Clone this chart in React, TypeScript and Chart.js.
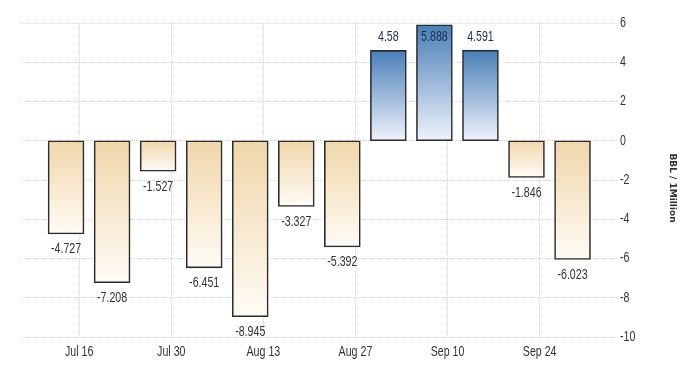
import React, { useEffect, useRef } from 'react';
import { Chart, registerables } from 'chart.js';

Chart.register(...registerables);

// ---- data ----
const weekDates = [
  '2018-07-14', '2018-07-21', '2018-07-28', '2018-08-04', '2018-08-11', '2018-08-18',
  '2018-08-25', '2018-09-01', '2018-09-08', '2018-09-15', '2018-09-22', '2018-09-29',
];
const inventoryChange = [
  -4.727, -7.208, -1.527, -6.451, -8.945, -3.327, -5.392, 4.58, 5.888, 4.591, -1.846, -6.023,
];
const tickDates = ['2018-07-16', '2018-07-30', '2018-08-13', '2018-08-27', '2018-09-10', '2018-09-24'];
const tickLabels = ['Jul 16', 'Jul 30', 'Aug 13', 'Aug 27', 'Sep 10', 'Sep 24'];
const yMin = -10;
const yMax = 6;
const yStep = 2;
const unitLabel = 'BBL / 1Million';

const DAY = 86400000;
const toDay = (s: string) => Date.parse(s + 'T00:00:00Z') / DAY;

const FONT = "'Liberation Sans', Arial, sans-serif";
const NARROW = 0.76;

function narrowText(ctx: any, text: string, x: number, y: number, align: CanvasTextAlign) {
  ctx.save();
  ctx.translate(x, y);
  ctx.scale(NARROW, 1);
  ctx.textAlign = align;
  ctx.fillText(text, 0, 0);
  ctx.restore();
}

export default function App() {
  const ref = useRef<HTMLCanvasElement | null>(null);

  useEffect(() => {
    const canvas = ref.current;
    if (!canvas) return;
    const days = weekDates.map(toDay);
    const tickDays = tickDates.map(toDay);
    const points = days.map((d, i) => ({ x: d, y: inventoryChange[i] }));

    const textPlugin = {
      id: 'narrowTexts',
      afterDraw(chart: any) {
        const { ctx, chartArea } = chart;
        const xs = chart.scales.x;
        const ys = chart.scales.y;
        ctx.save();
        ctx.font = `14px ${FONT}`;
        ctx.textBaseline = 'middle';
        ctx.fillStyle = '#333333';
        // x tick labels
        xs.ticks.forEach((t: any, i: number) => {
          narrowText(ctx, tickLabels[i], xs.getPixelForValue(t.value), chartArea.bottom + 15, 'center');
        });
        // y tick labels
        ys.ticks.forEach((t: any) => {
          narrowText(ctx, String(t.value), chartArea.right + 8, ys.getPixelForValue(t.value), 'left');
        });
        // value labels
        const meta = chart.getDatasetMeta(0);
        meta.data.forEach((el: any, i: number) => {
          const v = inventoryChange[i];
          let y: number;
          if (v >= 0) {
            const inside = el.y - 14 < chartArea.top + 14;
            y = Math.max(el.y - 14, chartArea.top + 14);
            ctx.fillStyle = inside ? '#1c2f4a' : '#333333';
          } else {
            y = el.y + 16;
            ctx.fillStyle = '#333333';
          }
          narrowText(ctx, String(v), el.x, y, 'center');
        });
        // axis unit title
        ctx.translate(672, 188);
        ctx.rotate(Math.PI / 2);
        ctx.font = `bold 9px 'DejaVu Sans', sans-serif`;
        ctx.textAlign = 'center';
        ctx.fillStyle = '#333333';
        ctx.fillText(unitLabel, 0, 0);
        ctx.restore();
      },
    };

    const chart = new Chart(canvas, {
      type: 'bar',
      data: {
        datasets: [
          {
            data: points as any,
            barThickness: 35,
            borderWidth: 1.6,
            inflateAmount: 0.8,
            borderColor: '#2b2b2b',
            borderSkipped: false,
            backgroundColor: (c: any) => {
              const chartObj = c.chart;
              const area = chartObj.chartArea;
              if (!area || c.dataIndex === undefined) return '#f0d8ae';
              const v = inventoryChange[c.dataIndex];
              const ys = chartObj.scales.y;
              const p0 = ys.getPixelForValue(0);
              const p1 = ys.getPixelForValue(v);
              const top = Math.min(p0, p1);
              const bot = Math.max(p0, p1);
              const g = chartObj.ctx.createLinearGradient(0, top, 0, bot + 0.01);
              if (v >= 0) {
                g.addColorStop(0, '#4a7fb9');
                g.addColorStop(1, '#eef3fa');
              } else {
                g.addColorStop(0, '#f0d6aa');
                g.addColorStop(1, '#fffbf5');
              }
              return g;
            },
          },
        ],
      },
      options: {
        responsive: false,
        animation: false,
        layout: { padding: { left: 20, top: 23, right: 0, bottom: 0 } },
        plugins: { legend: { display: false }, tooltip: { enabled: false } },
        scales: {
          x: {
            type: 'linear',
            offset: false,
            min: days[0] - 7,
            max: days[days.length - 1] + 6,
            afterBuildTicks: (s: any) => {
              s.ticks = tickDays.map((v) => ({ value: v }));
            },
            afterFit: (s: any) => {
              s.height = 38;
            },
            ticks: {
              display: false,
              autoSkip: false,
              maxRotation: 0,
              callback: (_v: any, i: number) => tickLabels[i],
            },
            grid: {
              offset: false,
              drawTicks: false,
              color: '#d6d6d6',
              lineWidth: 1,
            },
            border: { display: false, dash: [1, 1] },
          },
          y: {
            position: 'right',
            min: yMin,
            max: yMax,
            afterFit: (s: any) => {
              s.width = 88;
            },
            ticks: {
              display: false,
              stepSize: yStep,
            },
            grid: {
              color: '#d6d6d6',
              tickLength: 5,
              tickColor: '#d6d6d6',
              tickBorderDash: [1, 1],
              lineWidth: 1,
            },
            border: { display: false, dash: [1, 1] },
          },
        },
      } as any,
      plugins: [textPlugin],
    });

    return () => chart.destroy();
  }, []);

  return (
    <div style={{ position: 'absolute', left: 0, top: 0, width: 700, height: 375, background: '#ffffff' }}>
      <canvas ref={ref} width={700} height={375} />
    </div>
  );
}
